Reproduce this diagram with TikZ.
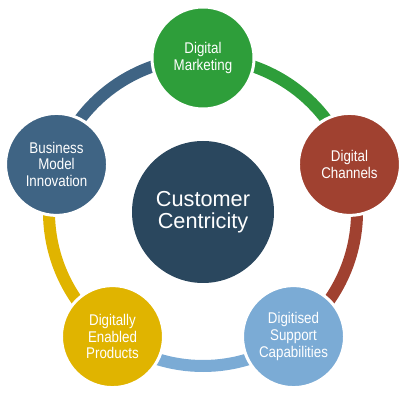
\documentclass[tikz,border=0pt]{standalone}
\usepackage{fontspec}
\setmainfont{Liberation Sans}
\newfontfamily\squeezed[FakeStretch=0.86]{Liberation Sans}
\usetikzlibrary{backgrounds}
\definecolor{cGreen}{HTML}{2E9E3A}
\definecolor{cRed}{HTML}{A04130}
\definecolor{cLight}{HTML}{7BABD5}
\definecolor{cYellow}{HTML}{E0B400}
\definecolor{cDark}{HTML}{3F6484}
\definecolor{cCenter}{HTML}{2A475E}
\tikzset{
  outer/.style={circle, fill=#1, draw=white, line width=3pt, minimum size=102pt, inner sep=0pt,
    text=white, align=center, font=\squeezed\fontsize{15.5}{16.7}\selectfont},
  ringarc/.style={draw=#1, line width=12pt},
}
\begin{document}
\begin{tikzpicture}[x=1pt,y=1pt]
\useasboundingbox (0,0) rectangle (406,401);
\node[circle, fill=cCenter, minimum size=142pt, inner sep=0pt, text=white, align=center,
  font=\fontsize{21.7}{21.8}\selectfont] (cc) at (203,189) {Customer\\Centricity};
\path (cc.center) ++(90:154) node[outer=cGreen] (dm) {Digital\\Marketing};
\path (cc.center) ++(18:154) node[outer=cRed] (dc) {Digital\\Channels};
\path (cc.center) ++(-54:154) node[outer=cLight] (ds) {Digitised\\Support\\Capabilities};
\path (cc.center) ++(-126:154) node[outer=cYellow] (de) {Digitally\\Enabled\\Products};
\path (cc.center) ++(162:154) node[outer=cDark] (bm) {Business\\Model\\Innovation};
\begin{pgfonlayer}{background}
\draw[ringarc=cGreen] (dm.center) arc[start angle=90, end angle=18, radius=154];
\draw[ringarc=cRed] (dc.center) arc[start angle=18, end angle=-54, radius=154];
\draw[ringarc=cLight] (ds.center) arc[start angle=-54, end angle=-126, radius=154];
\draw[ringarc=cYellow] (de.center) arc[start angle=-126, end angle=-198, radius=154];
\draw[ringarc=cDark] (bm.center) arc[start angle=162, end angle=90, radius=154];
\end{pgfonlayer}
\end{tikzpicture}
\end{document}
